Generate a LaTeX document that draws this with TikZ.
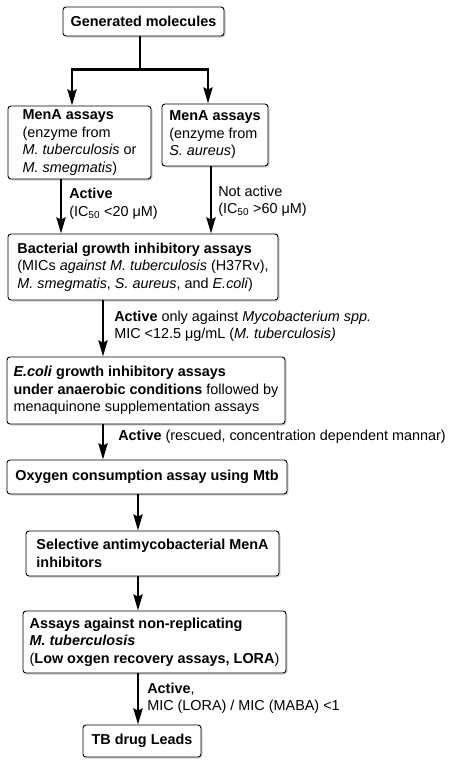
\documentclass[tikz,border=0pt]{standalone}
\usepackage{fontspec}
\setmainfont{Liberation Sans}
\usetikzlibrary{arrows.meta,shadows}
\newcommand\spec[1]{\textit{#1}}
\tikzset{box/.style={draw, line width=.9pt, rounded corners=3pt, fill=white,
  drop shadow={shadow xshift=1.5pt, shadow yshift=-1.5pt, opacity=.35},
  inner sep=0pt, align=left},
  arr/.style={line width=2.6pt, -{Stealth[length=16pt, width=9pt, inset=2pt]}},
  lbl/.style={right, inner sep=0pt, xshift=7pt, align=left}}

\begin{document}
\begin{tikzpicture}[x=1pt, y=1pt, font=\fontsize{14.4}{17.5}\selectfont]
  \useasboundingbox (0,0) rectangle (451,-766);

  \node[box, minimum width=161pt, minimum height=29pt, align=center]
    at (143.5,-21.5) (gen) {\textbf{Generated molecules}};

  \node[box, minimum width=143pt, minimum height=73pt] at (79.5,-142.5) (menaL){%
    \textbf{MenA assays}\\
    (enzyme from\\
    \spec{M. tuberculosis} or\\
    \spec{M. smegmatis})};
  \node[box, minimum width=106pt, minimum height=62pt] at (215,-135) (menaR){%
    \textbf{MenA assays}\\
    (enzyme from\\
    \spec{S. aureus})};

  \node[box, minimum width=270pt, minimum height=66pt] at (143,-267) (bact){%
    \textbf{Bacterial growth inhibitory assays}\\
    (MICs \spec{against M. tuberculosis} (H37Rv),\\
    \spec{M. smegmatis}, \spec{S. aureus}, and \spec{E.coli})};

  \node[box, minimum width=278pt, minimum height=67pt] at (146,-390.5) (ecoli){%
    \textbf{\spec{E.coli} growth inhibitory assays}\\
    \textbf{under anaerobic conditions} followed by\\
    menaquinone supplementation assays};

  \node[box, minimum width=280pt, minimum height=34pt, align=center]
    at (147,-477) (oxy) {\textbf{Oxygen consumption assay using Mtb}};

  \node[box, minimum width=253pt, minimum height=45pt] at (152.5,-553.5) (sel){%
    \textbf{Selective antimycobacterial MenA}\\
    \textbf{inhibitors}};

  \node[box, minimum width=263pt, minimum height=62pt] at (154.5,-642) (lora){%
    \textbf{Assays against non-replicating}\\
    \textbf{\spec{M. tuberculosis}}\\
    (\textbf{Low oxgen recovery assays, LORA})};

  \node[box, minimum width=118pt, minimum height=32pt, align=center]
    at (142,-741) (tb) {\textbf{TB drug Leads}};

  % split below the first box
  \draw[line width=2.6pt] ([xshift=-3.5pt]gen.south) -- ++(0,-33)
    coordinate (split);
  \draw[arr] (split) -| ([xshift=-7.5pt]menaL.north);
  \draw[arr] (split) -| ([xshift=-7pt]menaR.north);

  \draw[arr] ([xshift=-18.5pt]menaL.south)
    -- ([xshift=-18.5pt]menaL.south |- bact.north)
    node[lbl, pos=.45] {\textbf{Active}\\ (IC\textsubscript{50} <20 μM)};
  \draw[arr] ([xshift=-4pt]menaR.south)
    -- ([xshift=-4pt]menaR.south |- bact.north)
    node[lbl, pos=.52, xshift=-1pt] {Not active\\ (IC\textsubscript{50} >60 μM)};

  \draw[arr] ([xshift=-40pt]bact.south)
    -- ([xshift=-40pt]bact.south |- ecoli.north)
    node[lbl, pos=.46, xshift=3pt] {\textbf{Active} only against
      \spec{Mycobacterium spp.}\\ MIC <12.5 μg/mL (\spec{M. tuberculosis)}};
  \draw[arr] ([xshift=-43pt]ecoli.south)
    -- ([xshift=-43pt]ecoli.south |- oxy.north)
    node[lbl, pos=.36, xshift=7pt] {\textbf{Active} (rescued, concentration
      dependent mannar)};

  \draw[arr] ([xshift=-9pt]oxy.south) -- ([xshift=-9pt]oxy.south |- sel.north);
  \draw[arr] ([xshift=-14.5pt]sel.south) -- ([xshift=-14.5pt]sel.south |- lora.north);
  \draw[arr] ([xshift=-16.5pt]lora.south)
    -- ([xshift=-16.5pt]lora.south |- tb.north)
    node[lbl, pos=.49, xshift=1pt] {\textbf{Active},\\ MIC (LORA) / MIC (MABA) <1};

\end{tikzpicture}
\end{document}
